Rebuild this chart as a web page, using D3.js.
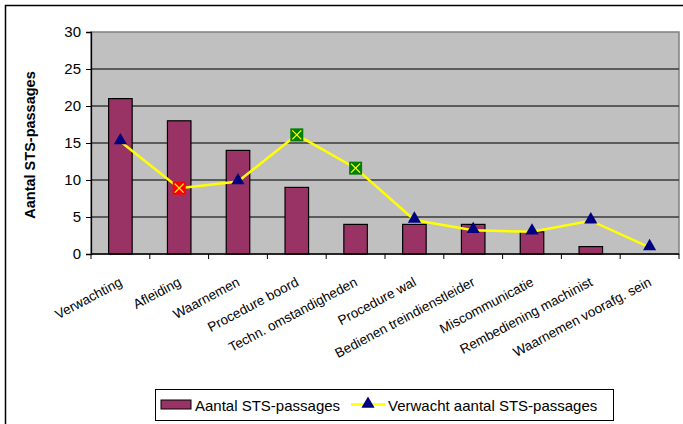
<!DOCTYPE html>
<html>
<head>
<meta charset="utf-8">
<script src="https://cdn.jsdelivr.net/npm/d3@7"></script>
<style>
  body { margin: 0; background: #fff; }
  svg { display: block; font-family: Arial, "Liberation Sans", sans-serif; }
</style>
</head>
<body>
<div id="chart"></div>
<script>
// categories and the two series
const categories = ["Verwachting", "Afleiding", "Waarnemen", "Procedure boord",
    "Techn. omstandigheden", "Procedure wal", "Bedienen treindienstleider",
    "Miscommunicatie", "Rembediening machinist", "Waarnemen voorafg. sein"];
const aantal = [21, 18, 14, 9, 4, 4, 4, 3, 1, 0];
const verwacht = [15.2, 8.9, 9.8, 16.1, 11.6, 4.6, 3.2, 3.0, 4.5, 0.9];
// marker type per point of the expected series
const markerType = ["tri", "red", "tri", "green", "green", "tri", "tri", "tri", "tri", "tri"];
const yTicks = [0, 5, 10, 15, 20, 25, 30];
const seriesNames = ["Aantal STS-passages", "Verwacht aantal STS-passages"];

const width = 683, height = 424;
const margin = {left: 91, right: 4, top: 32, bottom: 170};

const svg = d3.select('#chart').append('svg')
    .attr('width', width)
    .attr('height', height);

// outer chart frame
svg.append('rect')
    .attr('x', 5.5).attr('y', 5.5)
    .attr('width', 700).attr('height', 440)
    .attr('fill', 'none').attr('stroke', '#000').attr('stroke-width', 1.5);

const x = d3.scaleBand()
    .domain(categories)
    .range([margin.left, width - margin.right])
    .paddingInner(0).paddingOuter(0);

const y = d3.scaleLinear()
    .domain([0, 30])
    .range([height - margin.bottom, margin.top]);

// plot area
svg.append('rect')
    .attr('x', margin.left).attr('y', margin.top)
    .attr('width', width - margin.right - margin.left)
    .attr('height', y(0) - margin.top)
    .attr('fill', '#c0c0c0')
    .attr('stroke', '#808080').attr('stroke-width', 1.5);

// gridlines
svg.append('g').selectAll('line')
    .data(yTicks.filter(d => d > 0 && d < 30)).enter()
    .append('line')
    .attr('x1', margin.left).attr('x2', width - margin.right)
    .attr('y1', d => y(d)).attr('y2', d => y(d))
    .attr('stroke', '#3a3a3a').attr('stroke-width', 1.3);

// bars
const barW = x.bandwidth() * 0.4;
svg.append('g').selectAll('rect')
    .data(aantal).enter()
    .append('rect')
    .attr('x', (d, i) => x(categories[i]) + (x.bandwidth() - barW) / 2)
    .attr('y', d => y(d))
    .attr('width', barW)
    .attr('height', d => y(0) - y(d))
    .attr('fill', '#993366')
    .attr('stroke', d => d > 0 ? '#000' : 'none')
    .attr('stroke-width', 1.2);

// y axis
const yAxis = d3.axisLeft(y).tickValues(yTicks).tickSize(5).tickPadding(5);
const gy = svg.append('g')
    .attr('transform', `translate(${margin.left},0)`)
    .call(yAxis);
gy.select('.domain').attr('stroke', '#000').attr('stroke-width', 1.3);
gy.selectAll('.tick line').attr('stroke', '#000');
gy.selectAll('.tick text').attr('font-size', 15).attr('fill', '#000')
    .attr('font-family', 'Arial, "Liberation Sans", sans-serif');

// x axis: ticks at category boundaries
const gx = svg.append('g')
    .attr('transform', `translate(0,${y(0)})`);
gx.append('line')
    .attr('x1', margin.left).attr('x2', width - margin.right)
    .attr('stroke', '#000').attr('stroke-width', 1.5);
gx.selectAll('.xt')
    .data(categories.concat(['end'])).enter()
    .append('line')
    .attr('class', 'xt')
    .attr('x1', (d, i) => margin.left + i * x.step())
    .attr('x2', (d, i) => margin.left + i * x.step())
    .attr('y1', 0).attr('y2', 5)
    .attr('stroke', '#000');

gx.selectAll('text')
    .data(categories).enter()
    .append('text')
    .attr('transform', d => `translate(${x(d) + x.bandwidth() / 2 - 2},${22}) rotate(-28)`)
    .attr('text-anchor', 'end')
    .attr('dy', '0.75em')
    .attr('font-size', 13.5)
    .text(d => d);

// y axis title
svg.append('text')
    .attr('transform', `translate(35,${(margin.top + y(0)) / 2 + 2}) rotate(-90)`)
    .attr('text-anchor', 'middle')
    .attr('font-size', 14.5)
    .attr('font-weight', 'bold')
    .text('Aantal STS-passages');

// expected line
const cx = (d, i) => x(categories[i]) + x.bandwidth() / 2;
const line = d3.line()
    .x((d, i) => cx(d, i))
    .y(d => y(d));
svg.append('path')
    .datum(verwacht)
    .attr('d', line)
    .attr('fill', 'none')
    .attr('stroke', '#ffff00')
    .attr('stroke-width', 2.5);

const tri = d3.symbol().type(d3.symbolTriangle).size(75);

function drawMarker(g, type) {
    if (type === 'tri') {
        g.append('path').attr('d', tri()).attr('transform', 'translate(0,-1)')
            .attr('fill', '#000080');
    } else {
        const s = 13;
        g.append('rect')
            .attr('x', -s / 2).attr('y', -s / 2)
            .attr('width', s).attr('height', s)
            .attr('fill', type === 'red' ? '#ff0000' : '#008000');
        g.append('path')
            .attr('d', `M${-s / 2 + 2},${-s / 2 + 2}L${s / 2 - 2},${s / 2 - 2}M${s / 2 - 2},${-s / 2 + 2}L${-s / 2 + 2},${s / 2 - 2}`)
            .attr('stroke', '#ffff00').attr('stroke-width', 1.3);
    }
}

svg.append('g').selectAll('g')
    .data(verwacht).enter()
    .append('g')
    .attr('transform', (d, i) => `translate(${cx(d, i)},${y(d)})`)
    .each(function (d, i) { drawMarker(d3.select(this), markerType[i]); });

// legend
const lg = svg.append('g');
lg.append('rect')
    .attr('x', 155.5).attr('y', 389.5)
    .attr('width', 458).attr('height', 31)
    .attr('fill', '#fff').attr('stroke', '#000');
lg.append('rect')
    .attr('x', 161).attr('y', 400)
    .attr('width', 30).attr('height', 9)
    .attr('fill', '#993366').attr('stroke', '#000');
lg.append('text')
    .attr('x', 195).attr('y', 410.5)
    .attr('font-size', 15)
    .text(seriesNames[0]);
lg.append('line')
    .attr('x1', 351).attr('x2', 385)
    .attr('y1', 404.5).attr('y2', 404.5)
    .attr('stroke', '#ffff00').attr('stroke-width', 2.5);
lg.append('path')
    .attr('d', tri())
    .attr('transform', 'translate(368,404)')
    .attr('fill', '#000080');
lg.append('text')
    .attr('x', 388).attr('y', 410.5)
    .attr('font-size', 15)
    .text(seriesNames[1]);
</script>
</body>
</html>
